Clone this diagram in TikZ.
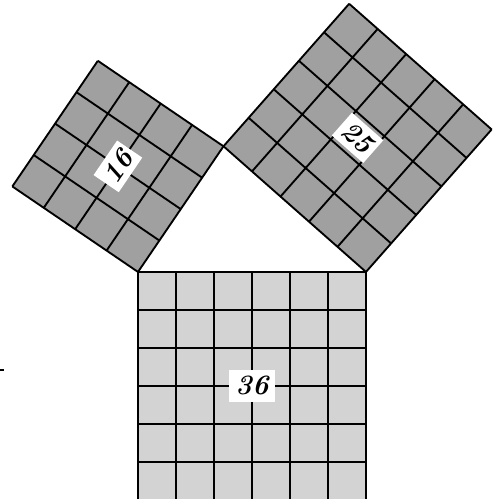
\documentclass[tikz,border=0pt]{standalone}
\usetikzlibrary{positioning}

\definecolor{tilelight}{RGB}{211,211,211}
\definecolor{tiledark}{RGB}{160,160,160}

\begin{document}
\begin{tikzpicture} [tile lines/.style = {line width = 1.4pt, line join = miter},
area label/.style = {fill = white, inner sep = 1pt, minimum width = 1.2cm, minimum height = 0.82cm,
font = \fontsize{21}{21}\selectfont\bfseries\itshape}]

\useasboundingbox (-3.6316,-5.975) rectangle (9.3684,7.1566);

\coordinate (A) at (0,0);
\coordinate (B) at (6,0);
\coordinate (C) at (2.25,3.30719);

% square on AB
\fill [tilelight] (A) rectangle (6,-6);
\draw [tile lines] (0,-6) grid (6,0);
\node (n36) [area label] at (3,-3) {36};

% square on AC
\begin{scope} [shift = {(A)}, rotate = 55.77]
  \fill [tiledark] (0,0) rectangle (4,4);
  \draw [tile lines] (0,0) grid (4,4);
  \node (n16) [area label, rotate = 55.77, minimum width = 1.1cm, minimum height = 0.8cm] at (2,2) {16};
\end{scope}

% square on CB
\begin{scope} [shift = {(C)}, rotate = -41.41]
  \fill [tiledark] (0,0) rectangle (5,5);
  \draw [tile lines] (0,0) grid (5,5);
  \node (n25) [area label, rotate = -41.41, minimum width = 1.1cm, minimum height = 0.8cm] at (2.5,2.5) {25};
\end{scope}

\coordinate (m1) at (-3.64,-2.58);
\coordinate (m2) at (-3.53,-2.58);
\draw [line width = 2pt] (m1) -- (m2);
\end{tikzpicture}
\end{document}
